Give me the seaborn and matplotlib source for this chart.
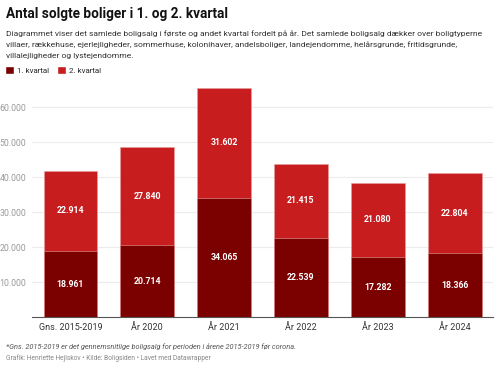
import numpy as np
import pandas as pd
import matplotlib
matplotlib.use('Agg')
import matplotlib.pyplot as plt
from matplotlib.patches import Patch
from matplotlib.ticker import FuncFormatter
import seaborn as sns

sns.set_style('white')
plt.rcParams['font.family'] = ['Roboto', 'DejaVu Sans']

# data
categories = ['Gns. 2015-2019', 'År 2020', 'År 2021', 'År 2022', 'År 2023', 'År 2024']
q1 = [18961, 20714, 34065, 22539, 17282, 18366]
q2 = [22914, 27840, 31602, 21415, 21080, 22804]

dark_red = '#7b0000'
red = '#c71d1f'

df = pd.DataFrame({'kategori': categories, 'q1': q1, 'q2': q2})
df['total'] = df['q1'] + df['q2']

def fmt(v):
    return f'{int(v):,}'.replace(',', '.')

fig = plt.figure(figsize=(4.99, 3.69), dpi=100)
ax = fig.add_axes([0.0641, 0.140, 0.924, 0.626])

# stacked bars: total in bright red, 1. kvartal drawn on top in dark red
sns.barplot(data=df, x='kategori', y='total', color=red, width=0.7,
            saturation=1, ax=ax, edgecolor='#e9a0a0', linewidth=0.4)
sns.barplot(data=df, x='kategori', y='q1', color=dark_red, width=0.7,
            saturation=1, ax=ax, edgecolor='#e9a0a0', linewidth=0.4)

for i, row in df.iterrows():
    ax.text(i, row['q1'] / 2, fmt(row['q1']), ha='center', va='center',
            color='white', fontsize=6.3, fontweight='bold')
    ax.text(i, row['q1'] + row['q2'] / 2, fmt(row['q2']), ha='center', va='center',
            color='white', fontsize=6.3, fontweight='bold')

ax.set_xlim(-0.5, 5.5)
ax.set_ylim(0, 66000)
ax.set_yticks([10000, 20000, 30000, 40000, 50000, 60000])
ax.yaxis.set_major_formatter(FuncFormatter(lambda v, p: fmt(v)))
ax.grid(axis='y', color='#ececec', linewidth=0.8)
ax.set_axisbelow(True)
for s in ['top', 'right', 'left']:
    ax.spines[s].set_visible(False)
ax.spines['bottom'].set_color('#555555')
ax.spines['bottom'].set_linewidth(0.8)
ax.tick_params(axis='y', length=0, labelsize=6.3, labelcolor='#9a9a9a', pad=4)
ax.tick_params(axis='x', length=0, labelsize=6.5, labelcolor='#333333', pad=4)
ax.set_xlabel('')
ax.set_ylabel('')

# header
fig.text(0.012, 0.962, 'Antal solgte boliger i 1. og 2. kvartal', fontsize=9.8,
         fontweight='bold', color='#111111', va='center')
subtitle_lines = [
    'Diagrammet viser det samlede boligsalg i første og andet kvartal fordelt på år. '
    'Det samlede boligsalg dækker over boligtyperne',
    'villaer, rækkehuse, ejerlejligheder, sommerhuse, kolonihaver, andelsboliger, '
    'landejendomme, helårsgrunde, fritidsgrunde,',
    'villalejligheder og lystejendomme.',
]
for k, line in enumerate(subtitle_lines):
    fig.text(0.012, 0.908 - k * 0.0298, line, fontsize=6.1, color='#333333',
             va='center')

handles = [Patch(facecolor=dark_red, label='1. kvartal'),
           Patch(facecolor=red, label='2. kvartal')]
fig.legend(handles=handles, loc='center left', bbox_to_anchor=(0.004, 0.81),
           ncol=2, frameon=False, fontsize=5.8, handlelength=1.1, handleheight=1.1,
           handletextpad=0.35, columnspacing=1.0, borderaxespad=0)

# footer
fig.text(0.012, 0.06, '*Gns. 2015-2019 er det gennemsnitlige boligsalg for perioden i årene 2015-2019 før corona.',
         fontsize=5.3, style='italic', color='#555555', va='center')
fig.text(0.012, 0.029, 'Grafik: Henriette Hejlskov • Kilde: Boligsiden • Lavet med Datawrapper',
         fontsize=4.8, color='#888888', va='center')

fig.savefig('out.png', dpi=100)
